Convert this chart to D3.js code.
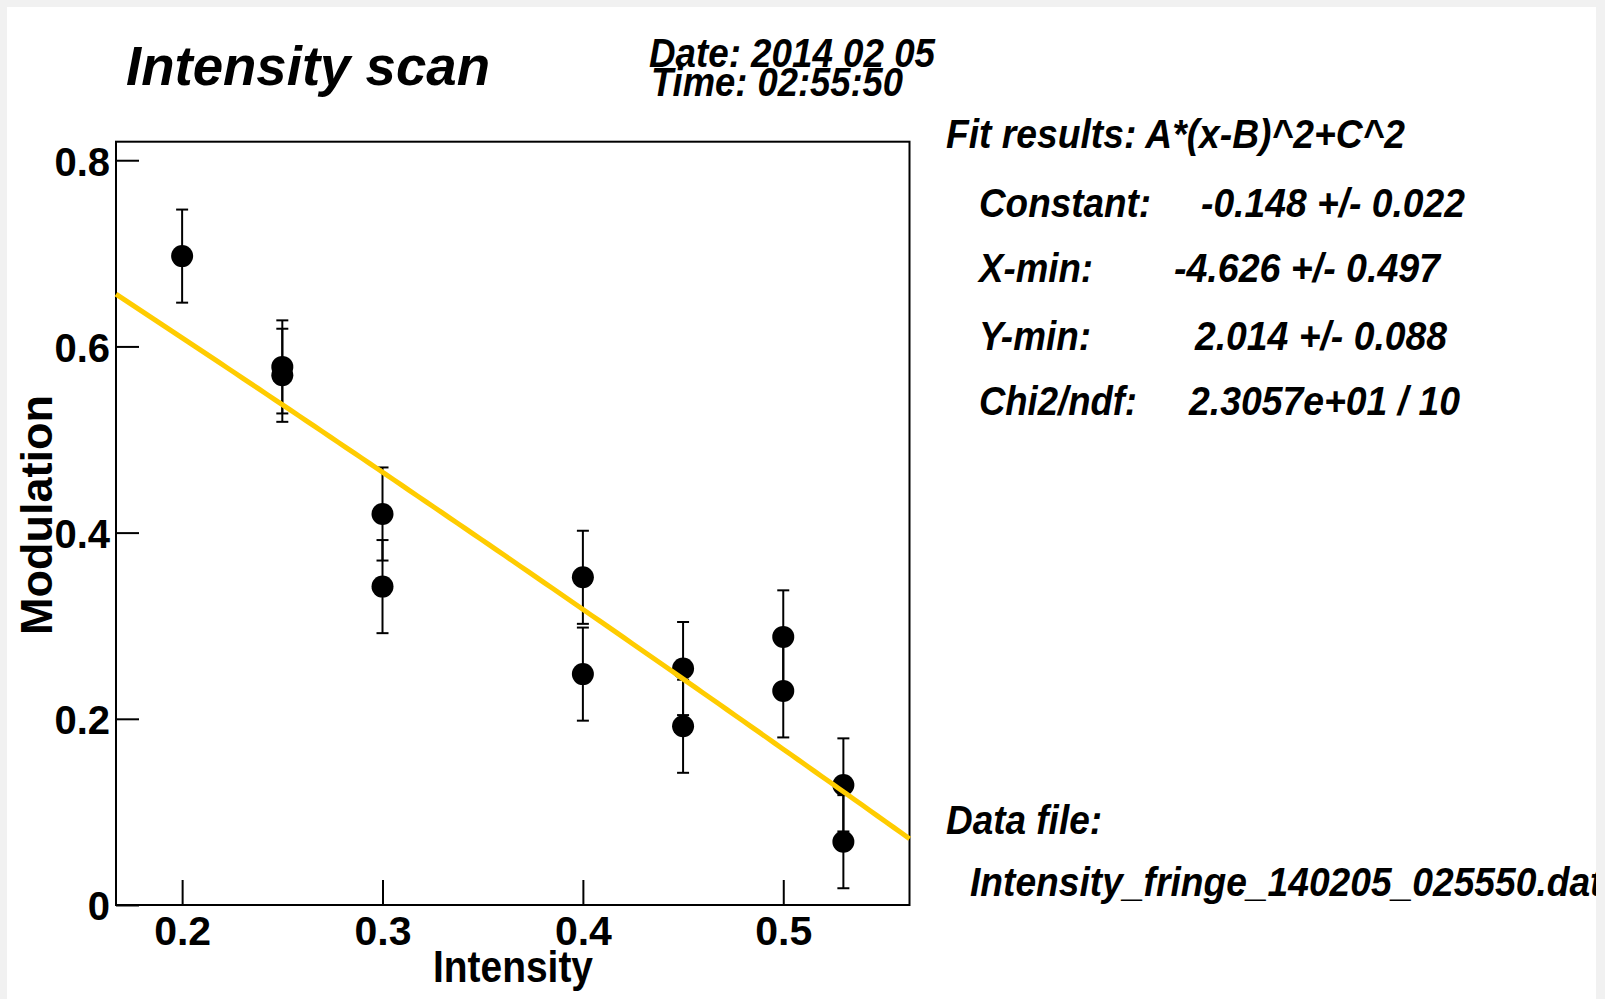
<!DOCTYPE html>
<html>
<head>
<meta charset="utf-8">
<script src="https://cdn.jsdelivr.net/npm/d3@7"></script>
<style>
  html, body { margin: 0; padding: 0; background: #f1f1f1; }
  svg { display: block; }
  text { font-family: "Liberation Sans", Arial, Helvetica, sans-serif; font-weight: bold; fill: #000; }
</style>
</head>
<body>
<svg id="chart" width="1605" height="999"></svg>
<script>
// Measurements: modulation versus laser intensity, with a quadratic fit.
const intensity     = [0.2, 0.25, 0.25, 0.3, 0.3, 0.4, 0.4, 0.45, 0.45, 0.5, 0.5, 0.53, 0.53];
const modulation    = [0.697, 0.578, 0.569, 0.420, 0.342, 0.352, 0.248, 0.254, 0.192, 0.288, 0.230, 0.129, 0.068];
const modulationErr = [0.05, 0.05, 0.05, 0.05, 0.05, 0.05, 0.05, 0.05, 0.05, 0.05, 0.05, 0.05, 0.05];

// Fit A*(x-B)^2 + C^2
const fitA = -0.148, fitB = -4.626, fitC = 2.014;

const xTicks = [0.2, 0.3, 0.4, 0.5];
const xTickLabels = ["0.2", "0.3", "0.4", "0.5"];
const yTicks = [0, 0.2, 0.4, 0.6, 0.8];
const yTickLabels = ["0", "0.2", "0.4", "0.6", "0.8"];

const titleText = "Intensity scan";
const dateLines = ["Date: 2014 02 05", "Time: 02:55:50"];
const fitHeader = "Fit results: A*(x-B)^2+C^2";
const fitNames  = ["Constant:", "X-min:", "Y-min:", "Chi2/ndf:"];
const fitValues = ["-0.148 +/- 0.022", "-4.626 +/- 0.497", "2.014 +/- 0.088", "2.3057e+01 / 10"];
const dataFileHeader = "Data file:";
const dataFileName = "Intensity_fringe_140205_025550.dat";

const svg = d3.select("#chart");

// canvas pad
svg.append("rect").attr("x", 0).attr("y", 0).attr("width", 1605).attr("height", 999).attr("fill", "#f1f1f1");
svg.append("rect").attr("x", 7).attr("y", 7).attr("width", 1589).attr("height", 992).attr("fill", "#ffffff");
svg.append("clipPath").attr("id", "padClip")
  .append("rect").attr("x", 7).attr("y", 7).attr("width", 1589).attr("height", 992);

// frame geometry
const frame = { left: 116, right: 909.5, top: 141.7, bottom: 905 };

// axis ranges padded by 10% of the data extent (error bars included)
const xMinD = d3.min(intensity), xMaxD = d3.max(intensity);
const xPad = 0.1 * (xMaxD - xMinD);
const lo = d3.min(modulation.map((v, i) => v - modulationErr[i]));
const hi = d3.max(modulation.map((v, i) => v + modulationErr[i]));
const yTop = hi + 0.1 * (hi - lo);

const x = d3.scaleLinear().domain([xMinD - xPad, xMaxD + xPad]).range([frame.left, frame.right]);
const y = d3.scaleLinear().domain([0, yTop]).range([frame.bottom, frame.top]);

// axes with inward ticks
const xAxis = d3.axisBottom(x).tickValues(xTicks)
  .tickFormat((d, i) => xTickLabels[i]).tickSizeInner(-25).tickSizeOuter(0).tickPadding(11);
const yAxis = d3.axisLeft(y).tickValues(yTicks)
  .tickFormat((d, i) => yTickLabels[i]).tickSizeInner(-23).tickSizeOuter(0).tickPadding(6);

const gx = svg.append("g").attr("transform", `translate(0,${frame.bottom})`).call(xAxis);
gx.select(".domain").remove();
gx.selectAll(".tick line").attr("stroke", "#000").attr("stroke-width", 2);
gx.selectAll(".tick text").attr("font-size", 41).attr("font-family", null).attr("fill", "#000");

const gy = svg.append("g").attr("transform", `translate(${frame.left},0)`).call(yAxis);
gy.select(".domain").remove();
gy.selectAll(".tick line").attr("stroke", "#000").attr("stroke-width", 2);
gy.selectAll(".tick text").attr("font-size", 40).attr("font-family", null).attr("fill", "#000").attr("dy", "0.37em");

// frame
svg.append("rect")
  .attr("x", frame.left).attr("y", frame.top)
  .attr("width", frame.right - frame.left).attr("height", frame.bottom - frame.top)
  .attr("fill", "none").attr("stroke", "#000").attr("stroke-width", 2);

// error bars
const pts = intensity.map((v, i) => ({ x: v, y: modulation[i], e: modulationErr[i] }));
const eb = svg.append("g").attr("stroke", "#000").attr("stroke-width", 2);
pts.forEach(p => {
  const cx = x(p.x);
  eb.append("line").attr("x1", cx).attr("x2", cx).attr("y1", y(p.y + p.e)).attr("y2", y(p.y - p.e));
  [p.y + p.e, p.y - p.e].forEach(v => {
    eb.append("line").attr("x1", cx - 6).attr("x2", cx + 6).attr("y1", y(v)).attr("y2", y(v));
  });
});

// markers
svg.append("g").selectAll("circle").data(pts).join("circle")
  .attr("cx", d => x(d.x)).attr("cy", d => y(d.y)).attr("r", 11).attr("fill", "#000");

// fit curve
const [d0, d1] = x.domain();
const fitPts = d3.range(0, 101).map(k => {
  const xv = d0 + (d1 - d0) * k / 100;
  return [xv, fitA * (xv - fitB) * (xv - fitB) + fitC * fitC];
});
svg.append("path")
  .datum(fitPts)
  .attr("d", d3.line().x(d => x(d[0])).y(d => y(d[1])))
  .attr("fill", "none").attr("stroke", "#ffcc00").attr("stroke-width", 5);

// axis titles
svg.append("text").text("Intensity")
  .attr("x", 513).attr("y", 982).attr("text-anchor", "middle").attr("font-size", 44)
  .attr("textLength", 160).attr("lengthAdjust", "spacingAndGlyphs");
svg.append("text").text("Modulation")
  .attr("transform", "translate(51.5,515) rotate(-90)")
  .attr("text-anchor", "middle").attr("font-size", 45)
  .attr("textLength", 240).attr("lengthAdjust", "spacingAndGlyphs");

// header texts
function italic(txt, xPos, yPos, size, len) {
  const t = svg.append("text").text(txt)
    .attr("x", xPos).attr("y", yPos).attr("font-size", size).attr("font-style", "italic");
  if (len) t.attr("textLength", len).attr("lengthAdjust", "spacingAndGlyphs");
  return t;
}
italic(titleText, 126, 85, 56, 364);
italic(dateLines[0], 649, 67, 40, 286);
italic(dateLines[1], 651, 96, 40, 252);

// fit summary
italic(fitHeader, 946, 148, 40, 459);
const rowY = [217, 282, 350, 415];
const valX = [1201, 1174, 1195, 1189];
const valW = [264, 266, 252, 271];
const nameW = [172, 114, 112, 158];
fitNames.forEach((n, i) => {
  italic(n, 979, rowY[i], 40, nameW[i]);
  italic(fitValues[i], valX[i], rowY[i], 40, valW[i]);
});

// data file
italic(dataFileHeader, 946, 834, 40, 156);
svg.append("g").attr("clip-path", "url(#padClip)")
  .append("text").text(dataFileName)
  .attr("transform", "translate(970,896) scale(0.93,1)")
  .attr("font-size", 40).attr("font-style", "italic");
</script>
</body>
</html>
